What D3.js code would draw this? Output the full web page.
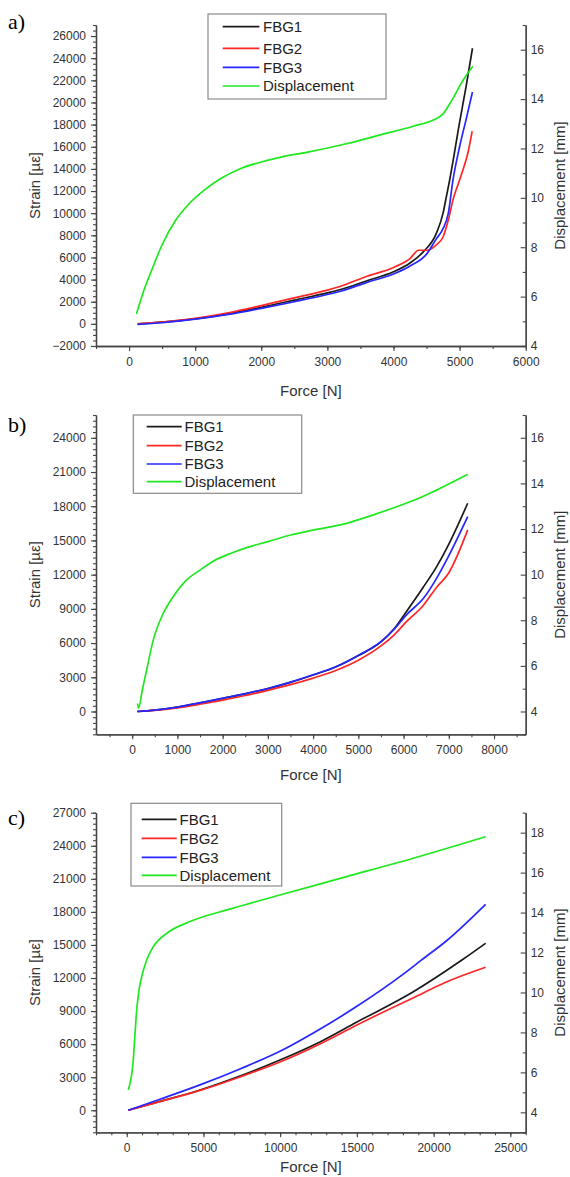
<!DOCTYPE html>
<html>
<head>
<meta charset="utf-8">
<script src="https://cdn.jsdelivr.net/npm/d3@7"></script>
<style>
  body { margin: 0; background: #fff; }
  svg { display: block; }
  text { font-family: "Liberation Sans", Arial, sans-serif; }
</style>
</head>
<body>
<svg id="chart" width="570" height="1177"></svg>
<script>
// ---- Series: [force N, strain µε] for the FBG sensors, [force N, displacement mm] ----
const fbg1A = [[130,0],[500,150],[1000,450],[1500,900],[2000,1500],[2500,2150],[3000,2800],[3200,3100],[3600,3900],[4000,4700],[4250,5500],[4450,6500],[4650,8200],[4750,10000],[4800,11500],[4850,13000],[5000,18200],[5100,21500],[5195,24900]];
const fbg2A = [[130,0],[500,170],[1000,500],[1500,1000],[2000,1650],[2500,2350],[3000,3050],[3200,3400],[3600,4300],[4000,5100],[4250,5900],[4380,6650],[4510,6650],[4640,7100],[4750,7850],[4830,9400],[4900,11200],[5000,13000],[5050,13900],[5120,15300],[5190,17400]];
const fbg3A = [[130,-50],[500,100],[1000,420],[1500,850],[2000,1400],[2500,2000],[3000,2650],[3200,2950],[3600,3750],[4000,4500],[4250,5230],[4500,6300],[4650,7700],[4750,8600],[4830,10000],[4900,13000],[5000,16000],[5100,18500],[5195,20950]];
const dispA = [[112,5.3],[230,6.3],[344,7.08],[500,8.1],[707,9.1],[894,9.72],[1147,10.33],[1400,10.8],[1700,11.2],[2000,11.45],[2300,11.65],[2700,11.85],[3300,12.2],[3800,12.55],[4300,12.9],[4600,13.15],[4750,13.4],[4860,13.85],[5060,14.79],[5200,15.33]];

const fbg1B = [[113,0],[500,120],[1000,380],[1500,750],[2000,1150],[2500,1550],[3000,2000],[3500,2550],[4000,3200],[4500,3900],[5000,4900],[5500,6100],[5800,7300],[6069,8800],[6435,10900],[6732,12700],[6953,14300],[7418,18260]];
const fbg2B = [[113,0],[500,90],[1000,320],[1500,650],[2000,1000],[2500,1400],[3000,1850],[3500,2350],[4000,2930],[4500,3600],[5000,4500],[5500,5750],[5800,6750],[6069,7900],[6435,9300],[6732,10900],[6990,12100],[7418,15930]];
const fbg3B = [[113,0],[500,120],[1000,390],[1500,760],[2000,1160],[2500,1570],[3000,2020],[3500,2570],[4000,3220],[4500,3920],[5000,4920],[5500,6120],[5800,7250],[6069,8500],[6435,9900],[6732,11700],[6953,13300],[7418,17090]];
const dispB = [[120,4.35],[140,4.15],[230,5.0],[320,5.82],[467,7.14],[688,8.31],[909,9.04],[1205,9.77],[1500,10.2],[1800,10.6],[2200,10.95],[2600,11.23],[3000,11.45],[3500,11.74],[4000,11.95],[4742,12.25],[5300,12.6],[5848,12.98],[6300,13.32],[6584,13.57],[6953,13.93],[7418,14.4]];

const fbg1C = [[104,0],[2169,800],[4775,1840],[7380,3110],[9987,4560],[12593,6200],[15003,8010],[18651,10730],[21844,13630],[23388,15150]];
const fbg2C = [[104,0],[2169,780],[4775,1800],[7380,3020],[9987,4380],[12593,6020],[15003,7740],[18651,10190],[20824,11640],[23388,12980]];
const fbg3C = [[104,0],[2169,1000],[4775,2300],[7380,3750],[9987,5350],[12136,6990],[15000,9430],[18000,12330],[19218,13640],[20824,15360],[23388,18690]];
const dispC = [[104,5.12],[430,6.62],[540,7.9],[651,9.12],[800,10.1],[977,10.79],[1303,11.63],[1733,12.29],[2606,12.96],[4124,13.55],[6945,14.22],[9987,14.88],[14332,15.8],[18671,16.72],[23388,17.8]];

// ---- Legend / titles ----
const seriesNames = ["FBG1", "FBG2", "FBG3", "Displacement"];
const seriesColors = ["#1a1a1a", "#ff2626", "#2626ff", "#1ee81e"];
const panelLabels = ["a)", "b)", "c)"];
const xTitle = "Force [N]";
const yLeftTitle = "Strain [µε]";
const yRightTitle = "Displacement [mm]";

// ---- Axis ranges and tick values ----
const xDomains = [[-500, 6000], [-800, 8700], [-2000, 26000]];
const xMajorTicks = [d3.range(0, 6001, 1000), d3.range(0, 8001, 1000), d3.range(0, 25001, 5000)];
const xMinorTicks = [d3.range(-500, 6001, 500), d3.range(-500, 8501, 500), d3.range(-2000, 26001, 1000)];
const strainDomains = [[-2000, 27000], [-2000, 26000], [-2000, 27000]];
const strainMajorTicks = [d3.range(-2000, 26001, 2000), d3.range(0, 24001, 3000), d3.range(0, 27001, 3000)];
const strainMinorTicks = [d3.range(-2000, 27001, 500), d3.range(-2000, 26001, 500), d3.range(-2000, 27001, 500)];
const dispDomains = [[4, 17], [3, 17], [3, 19]];
const dispMajorTicks = [d3.range(4, 17, 2), d3.range(4, 17, 2), d3.range(4, 19, 2)];
const dispMinorTicks = [d3.range(5, 18, 2), d3.range(3, 18, 2), d3.range(3, 20, 2)];

const svg = d3.select("#chart");
const plotLeft = 96, plotRight = 525.7;

const panels = [
  { top: 25,    bottom: 346,    titleY: 396,  series: [fbg1A, fbg2A, fbg3A, dispA], legend: { x: 208, y: 14,    w: 178, h: 85, rows: [26.7, 48.3, 67.3, 86], lx0: 222.7, lx1: 259.3, tx: 263 }, labelY: 29 },
  { top: 415,   bottom: 734.3,  titleY: 780,  series: [fbg1B, fbg2B, fbg3B, dispB], legend: { x: 133.3, y: 415, w: 168.4, h: 78.3, rows: [426.7, 445.7, 464, 481.7], lx0: 146.7, lx1: 181.7, tx: 184.5 }, labelY: 432 },
  { top: 812.7, bottom: 1132.3, titleY: 1172, series: [fbg1C, fbg2C, fbg3C, dispC], legend: { x: 131,   y: 803.3, w: 150.7, h: 82.7, rows: [819.3, 838.3, 857.3, 875.3], lx0: 141.7, lx1: 176.7, tx: 179.5 }, labelY: 825 }
];

const axisColor = "#444";
const labelColor = "#333";

function styleAxis(sel) {
  sel.select(".domain").attr("stroke", axisColor).attr("stroke-width", 1.3);
  sel.selectAll(".tick line").attr("stroke", axisColor).attr("stroke-width", 1.1);
  sel.selectAll(".tick text").attr("fill", labelColor).style("font-size", "12px")
     .style("font-family", "'Liberation Sans', Arial, sans-serif");
}

panels.forEach((p, i) => {
  const g = svg.append("g");
  const x = d3.scaleLinear().domain(xDomains[i]).range([plotLeft, plotRight]);
  const yL = d3.scaleLinear().domain(strainDomains[i]).range([p.bottom, p.top]);
  const yR = d3.scaleLinear().domain(dispDomains[i]).range([p.bottom, p.top]);

  // bottom axis: minor then major ticks
  g.append("g").attr("transform", `translate(0,${p.bottom})`)
    .call(d3.axisBottom(x).tickValues(xMinorTicks[i]).tickSize(3).tickSizeOuter(0).tickFormat(""))
    .call(styleAxis);
  g.append("g").attr("transform", `translate(0,${p.bottom})`)
    .call(d3.axisBottom(x).tickValues(xMajorTicks[i]).tickSize(5).tickSizeOuter(0).tickPadding(6).tickFormat(d3.format("d")))
    .call(styleAxis);

  // left strain axis
  g.append("g").attr("transform", `translate(${plotLeft},0)`)
    .call(d3.axisLeft(yL).tickValues(strainMinorTicks[i]).tickSize(3).tickSizeOuter(0).tickFormat(""))
    .call(styleAxis);
  g.append("g").attr("transform", `translate(${plotLeft},0)`)
    .call(d3.axisLeft(yL).tickValues(strainMajorTicks[i]).tickSize(5).tickSizeOuter(0).tickPadding(5).tickFormat(d3.format("d")))
    .call(styleAxis);

  // right displacement axis, ticks pointing inward
  g.append("g").attr("transform", `translate(${plotRight},0)`)
    .call(d3.axisRight(yR).tickValues(dispMinorTicks[i]).tickSizeInner(-3).tickSizeOuter(0).tickFormat(""))
    .call(styleAxis);
  g.append("g").attr("transform", `translate(${plotRight},0)`)
    .call(d3.axisRight(yR).tickValues(dispMajorTicks[i]).tickSizeInner(-5).tickSizeOuter(0).tickPadding(5).tickFormat(d3.format("d")))
    .call(styleAxis);

  // curves
  const strainLine = d3.line().x(d => x(d[0])).y(d => yL(d[1])).curve(d3.curveMonotoneX);
  const dispLine = d3.line().x(d => x(d[0])).y(d => yR(d[1])).curve(d3.curveMonotoneX);
  p.series.forEach((s, k) => {
    g.append("path").datum(s)
      .attr("fill", "none")
      .attr("stroke", seriesColors[k])
      .attr("stroke-width", 1.7)
      .attr("stroke-linejoin", "round")
      .attr("d", k === 3 ? dispLine : strainLine);
  });

  // axis titles
  const midY = (p.top + p.bottom) / 2;
  g.append("text").attr("transform", `translate(35,${midY}) rotate(-90)`)
    .attr("text-anchor", "middle").attr("dy", "0.35em")
    .attr("fill", labelColor).style("font-size", "15px").text(yLeftTitle);
  g.append("text").attr("transform", `translate(560,${midY}) rotate(-90)`)
    .attr("text-anchor", "middle").attr("dy", "0.35em")
    .attr("fill", labelColor).style("font-size", "15px").text(yRightTitle);
  g.append("text").attr("x", (plotLeft + plotRight) / 2).attr("y", p.titleY)
    .attr("text-anchor", "middle")
    .attr("fill", labelColor).style("font-size", "15px").text(xTitle);

  // panel letter
  g.append("text").attr("x", 8).attr("y", p.labelY)
    .style("font-family", "'Liberation Serif', 'Times New Roman', serif")
    .style("font-size", "22px").attr("fill", "#000").text(panelLabels[i]);

  // legend
  const L = p.legend;
  g.append("rect").attr("x", L.x).attr("y", L.y).attr("width", L.w).attr("height", L.h)
    .attr("fill", "#fff").attr("stroke", "#8a8a8a").attr("stroke-width", 1.2);
  seriesNames.forEach((name, k) => {
    g.append("line").attr("x1", L.lx0).attr("x2", L.lx1).attr("y1", L.rows[k]).attr("y2", L.rows[k])
      .attr("stroke", seriesColors[k]).attr("stroke-width", 1.7);
    g.append("text").attr("x", L.tx).attr("y", L.rows[k]).attr("dy", "0.36em")
      .attr("fill", "#222").style("font-size", "15px").text(name);
  });
});
</script>
</body>
</html>
